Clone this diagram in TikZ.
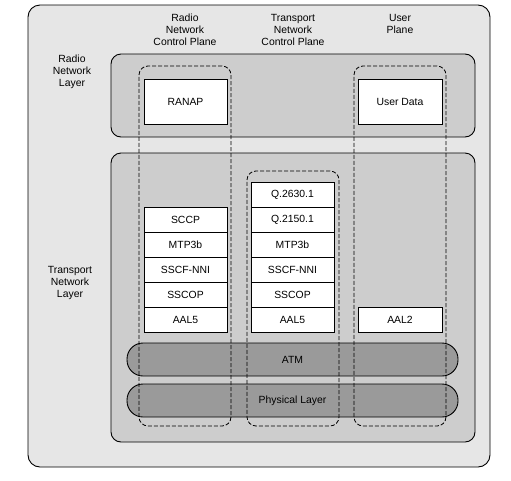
\documentclass[tikz,border=0pt]{standalone}
\usepackage{fontspec}
\setmainfont{Liberation Sans}
\begin{document}
\begin{tikzpicture}[x=1pt,y=-1pt,
  lbl/.style={font=\fontsize{10.4}{12}\selectfont, align=center, inner sep=0pt},
  panel/.style={draw=black, line width=0.9pt, rounded corners=#1, inner sep=0pt},
  outerbox/.style={panel=12, fill=outergray, minimum width=462pt, minimum height=462pt},
  layerbox/.style={panel=10, fill=layergray, minimum width=364pt},
  column/.style={draw=black, line width=0.8pt, dash pattern=on 4pt off 2pt, rounded corners=9, inner sep=0pt, minimum width=92pt},
  protobox/.style={draw=black, line width=0.9pt, fill=white, inner sep=0pt, minimum width=83pt, minimum height=25pt, font=\fontsize{10.4}{12}\selectfont},
  bigbox/.style={protobox, minimum height=45pt},
  bar/.style={panel=16, fill=bargray, minimum width=331pt, minimum height=33pt, font=\fontsize{10.4}{12}\selectfont}
]
\definecolor{outergray}{HTML}{E6E6E6}
\definecolor{layergray}{HTML}{CDCDCD}
\definecolor{bargray}{HTML}{9A9A9A}
\useasboundingbox (0,0) rectangle (511,480);
\fill[white] (0,0) rectangle (511,480);

\node[outerbox] (outer) at (259,236) {};
\node[layerbox, minimum height=83pt] (rnl) at (293,95.5) {};
\node[layerbox, minimum height=289pt] (tnl) at (293,297.5) {};

% labels
\node[lbl] (rncp) at (185,29.5) {Radio\\Network\\Control Plane};
\node[lbl] (tncp) at (293,29.5) {Transport\\Network\\Control Plane};
\node[lbl] (up) at (400,23.5) {User\\Plane};
\node[lbl] (rnll) at (72,72) {Radio\\Network\\Layer};
\node[lbl] (tnll) at (70,283) {Transport\\Network\\Layer};

% radio network layer boxes
\node[bigbox] (ranap) at (185.5,101.5) {RANAP};
\node[bigbox, minimum width=84pt] (udata) at (400,101.5) {User Data};

% stack 1
\node[protobox] (sccp) at (185.5,219.5) {SCCP};
\node[protobox] (mtpa) at (185.5,244.5) {MTP3b};
\node[protobox] (sscfa) at (185.5,269.5) {SSCF-NNI};
\node[protobox] (sscopa) at (185.5,294.5) {SSCOP};
\node[protobox] (aalfa) at (185.5,319.5) {AAL5};

% stack 2
\node[protobox] (q2630) at (292.5,194.5) {Q.2630.1};
\node[protobox] (q2150) at (292.5,219.5) {Q.2150.1};
\node[protobox] (mtpb) at (292.5,244.5) {MTP3b};
\node[protobox] (sscfb) at (292.5,269.5) {SSCF-NNI};
\node[protobox] (sscopb) at (292.5,294.5) {SSCOP};
\node[protobox] (aalfb) at (292.5,319.5) {AAL5};

% user plane
\node[protobox, minimum width=84pt] (aal2) at (400,319.5) {AAL2};

% bars
\node[bar] (atm) at (292.5,359.5) {ATM};
\node[bar] (phy) at (292.5,400.5) {Physical Layer};

% dashed columns
\node[column, minimum height=360pt] (col1) at (185,246) {};
\node[column, minimum height=255pt] (col2) at (293,298.5) {};
\node[column, minimum height=360pt] (col3) at (400,246) {};
\end{tikzpicture}
\end{document}
